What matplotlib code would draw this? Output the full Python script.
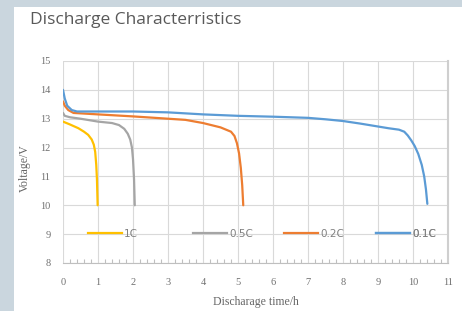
import matplotlib
matplotlib.use("Agg")
import matplotlib.pyplot as plt
from matplotlib.patches import Rectangle
from matplotlib.lines import Line2D
from matplotlib.ticker import MultipleLocator

# Data
t_1c = [0.0, 0.2, 0.44, 0.6, 0.72, 0.82, 0.88, 0.92, 0.95, 0.97, 0.99]
v_1c = [12.9, 12.8, 12.67, 12.55, 12.44, 12.28, 12.1, 11.85, 11.4, 10.9, 10.0]

t_05c = [0.0, 0.05, 0.2, 0.5, 1.0, 1.4, 1.6, 1.75, 1.85, 1.92, 1.97, 2.0, 2.03, 2.05]
v_05c = [13.2, 13.1, 13.05, 13.0, 12.9, 12.85, 12.78, 12.65, 12.48, 12.28, 12.0, 11.6, 10.9, 10.0]

t_02c = [0.0, 0.05, 0.15, 0.3, 1.0, 2.0, 3.0, 3.5, 4.0, 4.5, 4.8, 4.9, 4.97, 5.03, 5.08, 5.12, 5.15]
v_02c = [13.6, 13.45, 13.3, 13.2, 13.15, 13.08, 13.0, 12.96, 12.85, 12.7, 12.55, 12.4, 12.15, 11.8, 11.3, 10.7, 10.0]

t_01c = [0.0, 0.05, 0.12, 0.25, 0.4, 1.0, 2.0, 3.0, 4.0, 5.0, 6.0, 7.0, 7.5, 8.0, 8.5, 9.0,
         9.3, 9.6, 9.75, 9.85, 9.95, 10.05, 10.15, 10.25, 10.32, 10.37, 10.41]
v_01c = [14.0, 13.7, 13.45, 13.3, 13.25, 13.25, 13.25, 13.22, 13.15, 13.1, 13.07, 13.03, 12.98,
         12.92, 12.83, 12.73, 12.67, 12.62, 12.55, 12.42, 12.25, 12.05, 11.78, 11.4, 11.0, 10.55, 10.05]

series_labels = ["1C", "0.5C", "0.2C", "0.1C"]
series_colors = ["#FFC000", "#A5A5A5", "#ED7D31", "#5B9BD5"]

x_ticks = list(range(0, 12))
y_ticks = list(range(8, 16))

title = "Discharge Characterristics"
x_label = "Discharage time/h"
y_label = "Voltage/V"

W, H = 462, 311
fig = plt.figure(figsize=(W / 100, H / 100), dpi=100)
fig.patch.set_facecolor("#cad6de")
fig.patches.append(Rectangle((14 / W, 0), 1 - 14 / W, 1 - 7 / H,
                             transform=fig.transFigure, facecolor="white",
                             edgecolor="none", zorder=-10))

ax = fig.add_axes([63 / W, 1 - 263 / H, (448 - 63) / W, (263 - 61) / H])
ax.set_zorder(5)
ax.set_facecolor("white")

data = [(t_1c, v_1c), (t_05c, v_05c), (t_02c, v_02c), (t_01c, v_01c)]
for (t, v), lab, col in zip(data, series_labels, series_colors):
    ax.plot(t, v, color=col, lw=1.6, label=lab, solid_capstyle="round",
            solid_joinstyle="round")

ax.set_xlim(0, 11)
ax.set_ylim(8, 15)
ax.set_xticks(x_ticks)
ax.set_yticks(y_ticks)
ax.xaxis.set_minor_locator(MultipleLocator(0.2))
ax.grid(True, which="major", color="#d9d9d9", lw=0.8)
ax.set_axisbelow(True)
for s in ["top", "left"]:
    ax.spines[s].set_visible(False)
ax.spines["right"].set_color("#cfcfcf")
ax.spines["right"].set_linewidth(1.5)
ax.spines["bottom"].set_color("#bfbfbf")
ax.tick_params(axis="x", which="both", direction="in", color="#bfbfbf",
               length=3, width=0.8, labelsize=7.5, labelcolor="#707070", pad=11)
ax.tick_params(axis="x", which="major", length=0)
ax.tick_params(axis="y", length=0, labelsize=7.5, labelcolor="#707070", pad=9)
for lbl in ax.get_xticklabels() + ax.get_yticklabels():
    lbl.set_family("Liberation Serif")

# legend entries placed individually (start pixel of each handle)
leg_x_px = [88, 193, 284, 376]
for lab, col, xpx in zip(series_labels, series_colors, leg_x_px):
    h = Line2D([], [], color=col, lw=1.6)
    lg = ax.legend([h], [lab], loc="center left",
                   bbox_to_anchor=((xpx - 63) / (448 - 63), 1 / 7),
                   frameon=False, fontsize=7.5, handlelength=3.3,
                   handletextpad=0.15, labelcolor="#808080", borderpad=0,
                   borderaxespad=0)
    ax.add_artist(lg)

fig.text(30 / W, 1 - 20 / H, title, fontsize=12.5, family="Open Sans",
         color="#595959", va="center", ha="left")
fig.text(25 / W, 1 - 168 / H, y_label, rotation=90, fontsize=8.5,
         family="Liberation Serif", color="#666666", va="center", ha="center")
fig.text(256 / W, 1 - 302 / H, x_label, fontsize=8.5,
         family="Liberation Serif", color="#666666", va="center", ha="center")

fig.savefig("out.png", dpi=100)
